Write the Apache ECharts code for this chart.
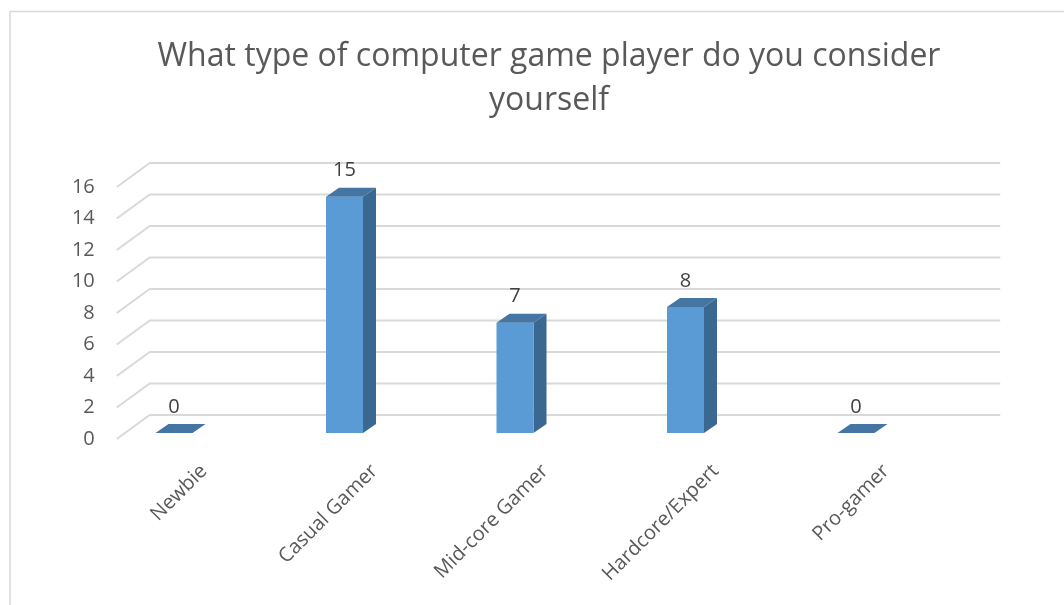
<!DOCTYPE html>
<html>
<head>
<meta charset="utf-8">
<title>Computer game player types</title>
<script src="https://cdn.jsdelivr.net/npm/echarts@6/dist/echarts.min.js"></script>
<style>
  html, body { margin: 0; padding: 0; background: #ffffff; }
  #chart { width: 1064px; height: 605px; }
</style>
</head>
<body>
<div id="chart"></div>
<script>
// Survey answers
const categories = ['Newbie', 'Casual Gamer', 'Mid-core Gamer', 'Hardcore/Expert', 'Pro-gamer'];
const counts = [0, 15, 7, 8, 0];
const yTicks = [0, 2, 4, 6, 8, 10, 12, 14, 16];

const FONT = '"Open Sans", "Noto Sans", sans-serif';
const TEXT_COLOR = '#595959';

// Pseudo-3D projection offsets (pixels)
const WALL_DX = 33, WALL_DY = -24;     // front axis plane -> back wall
const BAR_SHIFT_X = -30, BAR_SHIFT_Y = -6; // front axis plane -> bar front face
const BAR_W = 37, BAR_DX = 13, BAR_DY = -9; // bar width and depth

const chart = echarts.init(document.getElementById('chart'), null, { renderer: 'canvas' });

function renderGridLine(params, api) {
  const cs = params.coordSys;
  const y = api.coord([0, api.value(1)])[1];
  const x0 = cs.x - 2;
  const xEnd = cs.x + cs.width + 29;
  return {
    type: 'polyline',
    silent: true,
    shape: { points: [[x0, y], [x0 + WALL_DX, y + WALL_DY], [xEnd, y + WALL_DY]] },
    style: { stroke: '#d9d9d9', lineWidth: 2, fill: null }
  };
}

function renderBar(params, api) {
  const idx = api.value(0);
  const val = api.value(1);
  const base = api.coord([idx, 0]);
  const top = api.coord([idx, val]);
  const cx = base[0] + BAR_SHIFT_X;
  const xl = cx - BAR_W / 2, xr = cx + BAR_W / 2;
  const yb = base[1] + BAR_SHIFT_Y;
  const yt = top[1] + BAR_SHIFT_Y;
  const children = [];
  if (val > 0) {
    children.push({
      type: 'polygon',
      shape: { points: [[xr, yt], [xr + BAR_DX, yt + BAR_DY], [xr + BAR_DX, yb + BAR_DY], [xr, yb]] },
      style: { fill: '#3a6890' }
    });
    children.push({
      type: 'rect',
      shape: { x: xl, y: yt, width: BAR_W, height: yb - yt },
      style: { fill: '#5b9bd5' }
    });
  }
  children.push({
    type: 'polygon',
    shape: { points: [[xl, yt], [xl + BAR_DX, yt + BAR_DY], [xr + BAR_DX, yt + BAR_DY], [xr, yt]] },
    style: { fill: '#4475a3' }
  });
  children.push({
    type: 'text',
    style: {
      text: String(val), x: cx, y: yt - 26,
      align: 'center', verticalAlign: 'middle',
      font: '20px ' + FONT, fill: '#404040'
    }
  });
  return { type: 'group', children };
}

const option = {
  backgroundColor: '#ffffff',
  animation: false,
  title: {
    text: 'What type of computer game player do you consider\nyourself',
    left: 544, top: 30, textAlign: 'center',
    textStyle: { fontFamily: FONT, fontSize: 32, fontWeight: 'normal', color: TEXT_COLOR, lineHeight: 44 }
  },
  graphic: [{
    type: 'rect', silent: true, z: -10,
    shape: { x: 10, y: 11.5, width: 1200, height: 800 },
    style: { fill: null, stroke: '#d9d9d9', lineWidth: 1.5 }
  }],
  grid: { left: 118.75, width: 852.5, top: 187, height: 252, containLabel: false },
  xAxis: {
    type: 'category',
    data: categories,
    axisLine: { show: false },
    axisTick: { show: false },
    splitLine: { show: false },
    axisLabel: { interval: 0, rotate: 45, margin: 29, fontFamily: FONT, fontSize: 20, color: TEXT_COLOR }
  },
  yAxis: {
    type: 'value', min: 0, max: 16, interval: 2,
    axisLine: { show: false },
    axisTick: { show: false },
    splitLine: { show: false },
    axisLabel: { margin: 24, fontFamily: FONT, fontSize: 20, color: TEXT_COLOR }
  },
  series: [
    {
      type: 'custom',
      name: 'gridlines',
      renderItem: renderGridLine,
      data: yTicks.map(v => [0, v]),
      encode: { x: 0, y: 1 },
      clip: false, silent: true, z: 1
    },
    {
      type: 'custom',
      name: 'Players',
      renderItem: renderBar,
      data: counts.map((v, i) => [i, v]),
      encode: { x: 0, y: 1 },
      clip: false, z: 2
    }
  ]
};

chart.setOption(option);
</script>
</body>
</html>
